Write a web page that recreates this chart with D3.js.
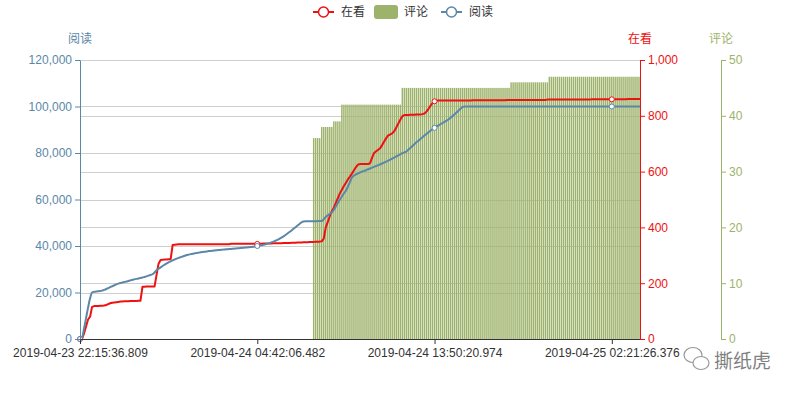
<!DOCTYPE html>
<html>
<head>
<meta charset="utf-8">
<script src="https://cdn.jsdelivr.net/npm/d3@7"></script>
<style>
    body { margin: 0; background: #fff; }
    svg text { font-family: "Liberation Sans", Arial, "Noto Sans CJK SC", sans-serif; font-size: 12px; }
</style>
</head>
<body>
<div id="chart"></div>
<script>
// x axis labels (category axis, one category per sample)
var tickIndex = [0, 88, 176, 264];
var tickLabels = [
    '2019-04-23 22:15:36.809',
    '2019-04-24 04:42:06.482',
    '2019-04-24 13:50:20.974',
    '2019-04-25 02:21:26.376'
];

var seriesNames = ['在看', '评论', '阅读'];

// 阅读
var readCounts = [
    0, 500, 4500, 9000, 13500, 17500, 20000, 20300, 20400, 20500,
    20600, 20800, 21100, 21500, 21900, 22300, 22700, 23100, 23500, 23800,
    24100, 24300, 24500, 24700, 24950, 25200, 25450, 25650, 25850, 26050,
    26250, 26450, 26700, 26950, 27250, 27550, 27850, 28600, 29600, 30200,
    30800, 31400, 32000, 32500, 33000, 33400, 33800, 34200, 34600, 34900,
    35200, 35500, 35800, 36100, 36300, 36500, 36700, 36850, 37000, 37150,
    37300, 37420, 37550, 37680, 37800, 37900, 38000, 38100, 38200, 38280,
    38360, 38440, 38520, 38600, 38680, 38760, 38840, 38920, 39000, 39080,
    39160, 39240, 39320, 39400, 39480, 39560, 39650, 39800, 40000, 40150,
    40300, 40500, 40700, 40950, 41250, 41550, 41900, 42250, 42650, 43100,
    43600, 44150, 44750, 45400, 46050, 46700, 47400, 48100, 48800, 49500,
    50200, 50500, 50600, 50600, 50600, 50650, 50650, 50650, 50700, 50700,
    50700, 51500, 52500, 53200, 53800, 54400, 55500, 57000, 58500, 60000,
    61300, 62600, 63800, 65500, 67500, 69500, 70300, 70800, 71200, 71600,
    72000, 72300, 72600, 73000, 73350, 73700, 74050, 74400, 74750, 75100,
    75500, 75900, 76300, 76700, 77150, 77600, 78050, 78500, 78950, 79400,
    79900, 80300, 80600, 81400, 82200, 83000, 83800, 84600, 85300, 86000,
    86800, 87500, 88200, 88900, 89600, 90200, 90800, 91400, 91900, 92400,
    92900, 93400, 93900, 94500, 95200, 95900, 96700, 97500, 98300, 99100,
    99800, 100000, 100000, 100000, 100000, 100000, 100000, 100000, 100000, 100000,
    100000, 100000, 100000, 100000, 100000, 100000, 100000, 100000, 100000, 100000,
    100000, 100000, 100000, 100000, 100000, 100000, 100000, 100000, 100000, 100000,
    100000, 100000, 100000, 100000, 100000, 100000, 100000, 100000, 100000, 100000,
    100000, 100000, 100000, 100000, 100000, 100000, 100000, 100000, 100000, 100000,
    100000, 100000, 100000, 100000, 100000, 100000, 100000, 100000, 100000, 100000,
    100000, 100000, 100000, 100000, 100000, 100000, 100000, 100000, 100000, 100000,
    100000, 100000, 100000, 100000, 100000, 100000, 100000, 100000, 100000, 100000,
    100000, 100000, 100000, 100000, 100000, 100000, 100000, 100000, 100000
];

// 在看
var watchCounts = [
    0, 0, 20, 45, 70, 80, 115, 118, 118, 118,
    119, 119, 120, 122, 125, 128, 130, 131, 132, 133,
    134, 134, 135, 135, 135, 136, 136, 136, 136, 137,
    137, 187, 187, 188, 188, 188, 188, 188, 230, 270,
    283, 284, 285, 285, 286, 286, 337, 338, 339, 340,
    340, 340, 340, 340, 340, 340, 340, 340, 340, 340,
    340, 340, 340, 340, 340, 340, 340, 340, 340, 340,
    340, 340, 340, 340, 340, 341, 341, 341, 341, 341,
    341, 341, 341, 341, 341, 341, 341, 341, 341, 341,
    341, 342, 342, 342, 342, 342, 343, 343, 343, 343,
    343, 344, 344, 344, 344, 345, 345, 345, 346, 346,
    346, 347, 347, 347, 348, 348, 348, 349, 349, 349,
    350, 360, 400, 420, 440, 458, 470, 488, 505, 522,
    535, 548, 560, 572, 582, 593, 605, 616, 625, 627,
    627, 627, 627, 627, 630, 650, 667, 673, 678, 684,
    695, 708, 720, 730, 733, 737, 745, 758, 772, 786,
    798, 803, 803, 803, 804, 804, 804, 805, 805, 805,
    806, 808, 815, 825, 836, 846, 852, 855, 855, 855,
    855, 855, 855, 855, 855, 855, 855, 855, 855, 855,
    855, 855, 855, 855, 855, 856, 856, 856, 856, 856,
    856, 856, 856, 856, 856, 856, 856, 856, 856, 856,
    856, 856, 857, 857, 857, 857, 857, 857, 857, 857,
    857, 857, 857, 857, 857, 857, 857, 857, 857, 857,
    857, 857, 858, 858, 858, 858, 858, 858, 858, 858,
    858, 858, 858, 858, 858, 858, 858, 858, 858, 858,
    858, 858, 858, 858, 859, 859, 859, 859, 859, 859,
    859, 859, 859, 859, 859, 859, 859, 859, 859, 859,
    859, 859, 860, 860, 860, 860, 860, 860, 860
];

// 评论
var commentCounts = [
    0, 0, 0, 0, 0, 0, 0, 0, 0, 0, 0, 0, 0, 0, 0, 0, 0, 0, 0, 0,
    0, 0, 0, 0, 0, 0, 0, 0, 0, 0, 0, 0, 0, 0, 0, 0, 0, 0, 0, 0,
    0, 0, 0, 0, 0, 0, 0, 0, 0, 0, 0, 0, 0, 0, 0, 0, 0, 0, 0, 0,
    0, 0, 0, 0, 0, 0, 0, 0, 0, 0, 0, 0, 0, 0, 0, 0, 0, 0, 0, 0,
    0, 0, 0, 0, 0, 0, 0, 0, 0, 0, 0, 0, 0, 0, 0, 0, 0, 0, 0, 0,
    0, 0, 0, 0, 0, 0, 0, 0, 0, 0, 0, 0, 0, 0, 0, 0, 36, 36, 36, 36,
    38, 38, 38, 38, 38, 38, 39, 39, 39, 39, 42, 42, 42, 42, 42, 42, 42, 42, 42, 42,
    42, 42, 42, 42, 42, 42, 42, 42, 42, 42, 42, 42, 42, 42, 42, 42, 42, 42, 42, 42,
    45, 45, 45, 45, 45, 45, 45, 45, 45, 45, 45, 45, 45, 45, 45, 45, 45, 45, 45, 45,
    45, 45, 45, 45, 45, 45, 45, 45, 45, 45, 45, 45, 45, 45, 45, 45, 45, 45, 45, 45,
    45, 45, 45, 45, 45, 45, 45, 45, 45, 45, 45, 45, 45, 45, 46, 46, 46, 46, 46, 46,
    46, 46, 46, 46, 46, 46, 46, 46, 46, 46, 46, 46, 46, 47, 47, 47, 47, 47, 47, 47,
    47, 47, 47, 47, 47, 47, 47, 47, 47, 47, 47, 47, 47, 47, 47, 47, 47, 47, 47, 47,
    47, 47, 47, 47, 47, 47, 47, 47, 47, 47, 47, 47, 47, 47, 47, 47, 47, 47, 47
];

var readTicks = [0, 20000, 40000, 60000, 80000, 100000, 120000];
var watchTicks = [0, 200, 400, 600, 800, 1000];
var commentTicks = [0, 10, 20, 30, 40, 50];

var svg_size = {width: 800, height: 400};
var plot = {left: 80, right: 640, top: 60, bottom: 339};
var commentAxisX = 721;

var color = {
    watch: '#ee1111',
    comment: '#9db26a',
    read: '#5b87a8',
    grid: '#cfcfcf',
    text: '#333'
};

var svg = d3.select('#chart')
    .append('svg')
    .attr('width', svg_size.width)
    .attr('height', svg_size.height);

var x_scale = d3.scalePoint()
    .domain(d3.range(watchCounts.length))
    .range([plot.left, plot.right]);

var y_read = d3.scaleLinear().domain([0, 120000]).range([plot.bottom, plot.top]);
var y_watch = d3.scaleLinear().domain([0, 1000]).range([plot.bottom, plot.top]);
var y_comment = d3.scaleLinear().domain([0, 50]).range([plot.bottom, plot.top]);

// grid lines from both the left and the right axis
var grid_group = svg.append('g');
readTicks.slice(1).forEach(function(t){
    grid_group.append('line')
        .attr('x1', plot.left).attr('x2', plot.right)
        .attr('y1', Math.round(y_read(t)) + 0.5).attr('y2', Math.round(y_read(t)) + 0.5)
        .attr('stroke', color.grid);
});
watchTicks.slice(1).forEach(function(t){
    grid_group.append('line')
        .attr('x1', plot.left).attr('x2', plot.right)
        .attr('y1', Math.round(y_watch(t)) + 0.5).attr('y2', Math.round(y_watch(t)) + 0.5)
        .attr('stroke', color.grid);
});

svg.append('clipPath').attr('id', 'plot-clip')
    .append('rect')
    .attr('x', plot.left).attr('y', plot.top - 10)
    .attr('width', plot.right - plot.left).attr('height', plot.bottom - plot.top + 10);

// bars, one per category (zero counts give zero height)
var bar_width = x_scale.step() * 0.72;
svg.append('g')
    .attr('clip-path', 'url(#plot-clip)')
    .selectAll('rect')
    .data(commentCounts)
    .enter()
    .append('rect')
    .attr('x', function(d, i){ return x_scale(i) - bar_width / 2; })
    .attr('y', function(d){ return y_comment(d); })
    .attr('width', bar_width)
    .attr('height', function(d){ return plot.bottom - y_comment(d); })
    .attr('fill', color.comment);

// lines
var watch_line = d3.line()
    .x(function(d, i){ return x_scale(i); })
    .y(function(d){ return y_watch(d); });

var read_line = d3.line()
    .x(function(d, i){ return x_scale(i); })
    .y(function(d){ return y_read(d); })
    .curve(d3.curveMonotoneX);

svg.append('path')
    .datum(watchCounts)
    .attr('d', watch_line)
    .attr('fill', 'none')
    .attr('stroke', color.watch)
    .attr('stroke-width', 2)
    .attr('stroke-linejoin', 'round');

svg.append('path')
    .datum(readCounts)
    .attr('d', read_line)
    .attr('fill', 'none')
    .attr('stroke', color.read)
    .attr('stroke-width', 2)
    .attr('stroke-linejoin', 'round');

// symbols at the labelled categories
tickIndex.forEach(function(idx){
    svg.append('circle')
        .attr('cx', x_scale(idx)).attr('cy', y_watch(watchCounts[idx]))
        .attr('r', 2.5).attr('fill', '#fff')
        .attr('stroke', color.watch).attr('stroke-width', 1);
    svg.append('circle')
        .attr('cx', x_scale(idx)).attr('cy', y_read(readCounts[idx]))
        .attr('r', 2.5).attr('fill', '#fff')
        .attr('stroke', color.read).attr('stroke-width', 1);
});

// x axis
var x_axis = d3.axisBottom(x_scale)
    .tickValues(tickIndex)
    .tickFormat(function(d){ return tickLabels[tickIndex.indexOf(d)]; })
    .tickSizeInner(5)
    .tickSizeOuter(0)
    .tickPadding(4);

var x_group = svg.append('g')
    .attr('transform', 'translate(0,' + plot.bottom + ')')
    .call(x_axis);
x_group.selectAll('path, line').attr('stroke', color.text);
x_group.selectAll('text').attr('fill', color.text).style('font-size', '12px');

function styleAxis(g, c){
    g.selectAll('path, line').attr('stroke', c);
    g.selectAll('text').attr('fill', c).style('font-size', '12px');
}

var read_axis = svg.append('g')
    .attr('transform', 'translate(' + plot.left + ',0)')
    .call(d3.axisLeft(y_read).tickValues(readTicks).tickFormat(d3.format(',')).tickSizeInner(5).tickSizeOuter(0).tickPadding(3));
styleAxis(read_axis, color.read);

var watch_axis = svg.append('g')
    .attr('transform', 'translate(' + plot.right + ',0)')
    .call(d3.axisRight(y_watch).tickValues(watchTicks).tickFormat(d3.format(',')).tickSizeInner(5).tickSizeOuter(0).tickPadding(3));
styleAxis(watch_axis, color.watch);

var comment_axis = svg.append('g')
    .attr('transform', 'translate(' + commentAxisX + ',0)')
    .call(d3.axisRight(y_comment).tickValues(commentTicks).tickSizeInner(5).tickSizeOuter(0).tickPadding(3));
styleAxis(comment_axis, color.comment);

// axis names
[[plot.left, seriesNames[2], color.read], [plot.right, seriesNames[0], color.watch], [commentAxisX, seriesNames[1], color.comment]]
    .forEach(function(a){
        svg.append('text')
            .attr('x', a[0]).attr('y', 43)
            .attr('text-anchor', 'middle')
            .attr('fill', a[2])
            .text(a[1]);
    });

// legend
var legend = svg.append('g').attr('transform', 'translate(0,12)');
var legend_items = [
    {name: seriesNames[0], type: 'line', color: color.watch, x: 313},
    {name: seriesNames[1], type: 'bar', color: color.comment, x: 374},
    {name: seriesNames[2], type: 'line', color: color.read, x: 441}
];
legend_items.forEach(function(item){
    if (item.type === 'line') {
        legend.append('line')
            .attr('x1', item.x).attr('x2', item.x + 21)
            .attr('y1', 0).attr('y2', 0)
            .attr('stroke', item.color).attr('stroke-width', 2);
        legend.append('circle')
            .attr('cx', item.x + 10.5).attr('cy', 0).attr('r', 5)
            .attr('fill', '#fff').attr('stroke', item.color).attr('stroke-width', 1.5);
    } else {
        legend.append('rect')
            .attr('x', item.x).attr('y', -7)
            .attr('width', 24).attr('height', 14).attr('rx', 3)
            .attr('fill', item.color);
    }
    legend.append('text')
        .attr('x', item.x + (item.type === 'line' ? 28 : 30))
        .attr('y', 0)
        .attr('dominant-baseline', 'central')
        .attr('fill', color.text)
        .text(item.name);
});

// watermark
var mark = svg.append('g').attr('opacity', 0.75);
mark.append('ellipse')
    .attr('cx', 693).attr('cy', 355).attr('rx', 9).attr('ry', 7.5)
    .attr('fill', 'none').attr('stroke', '#777').attr('stroke-width', 1.2);
mark.append('ellipse')
    .attr('cx', 701).attr('cy', 363).attr('rx', 8).attr('ry', 6.5)
    .attr('fill', '#fff').attr('stroke', '#777').attr('stroke-width', 1.2);
mark.append('text')
    .attr('x', 714).attr('y', 368)
    .attr('fill', '#555')
    .style('font-size', '19px')
    .style('font-family', '"Noto Sans CJK SC", sans-serif')
    .text('撕纸虎');
</script>
</body>
</html>
